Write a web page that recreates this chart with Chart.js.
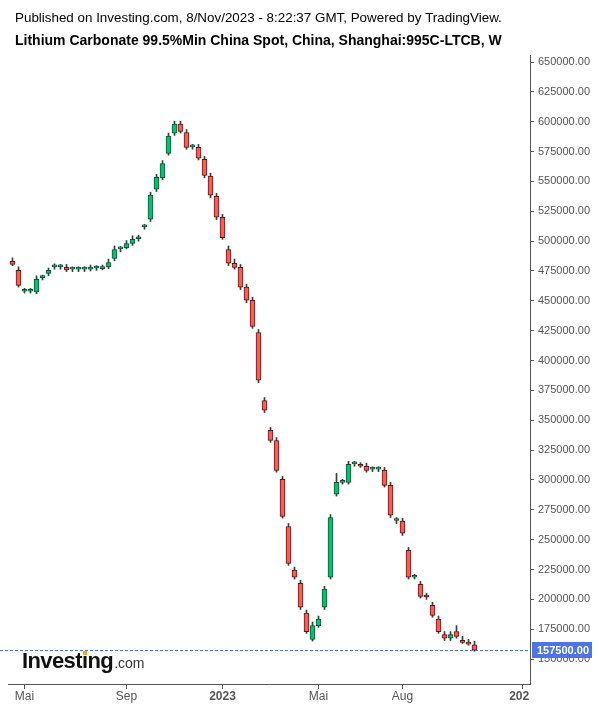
<!DOCTYPE html>
<html>
<head>
<meta charset="utf-8">
<script src="https://cdn.jsdelivr.net/npm/chart.js@4"></script>
<style>
  html, body { margin: 0; padding: 0; background: #fff; }
  #wrap { width: 600px; height: 708px; }
</style>
</head>
<body>
<div id="wrap"><canvas id="myChart" width="600" height="708"></canvas></div>
<script>
// Donnees hebdomadaires (OHLC), une bougie par semaine
const opens  = [483000, 475500, 458000, 458000, 457500, 469500, 473000, 478500, 478500, 478000,
                476500, 476500, 476500, 476500, 477500, 477000, 478500, 485500, 493500, 494500,
                498000, 502000, 512000, 518500, 543500, 553000, 573500, 590500, 598000, 591000,
                579000, 578500, 568500, 554500, 537500, 520000, 493000, 481500, 478000, 461500,
                450500, 423500, 366500, 341500, 333000, 300500, 261000, 224500, 213500, 188500,
                166500, 178000, 193500, 218500, 288000, 298000, 298000, 313500, 313000, 311500,
                309000, 309000, 308000, 295500, 266000, 265500, 241000, 218500, 212500, 203000,
                195000, 183500, 170500, 167500, 173000, 165500, 163500, 162000]
const highs  = [486000, 478500, 460500, 460500, 471000, 471500, 477500, 481000, 480500, 480500,
                478500, 478500, 478500, 480000, 479500, 480000, 485000, 496000, 495500, 500500,
                504500, 505000, 514000, 541000, 556000, 567500, 590500, 600500, 600500, 593500,
                581000, 581000, 571000, 557000, 540000, 522500, 496000, 485000, 480500, 464000,
                453000, 426000, 369000, 344000, 335500, 303000, 263500, 227000, 216000, 191000,
                181000, 186000, 211000, 271000, 305500, 300500, 315500, 315500, 314500, 314000,
                311000, 311000, 310500, 298000, 268500, 268000, 243500, 221000, 215000, 205000,
                197500, 186000, 173000, 173000, 178000, 169000, 166500, 165000]
const lows   = [479500, 461500, 456500, 456500, 456000, 467500, 471000, 476500, 476500, 474500,
                474500, 474500, 474500, 475000, 475500, 476000, 477000, 483500, 491000, 493500,
                496500, 500000, 510000, 516500, 541500, 551500, 572000, 588500, 590500, 577000,
                577000, 568000, 553000, 536500, 518000, 501500, 479500, 476500, 459500, 448500,
                427000, 381500, 356500, 331500, 306500, 268000, 228500, 217000, 191500, 171500,
                165000, 176500, 191500, 217000, 286500, 296500, 296500, 311500, 310500, 306500,
                307000, 307000, 294000, 268500, 263500, 253500, 217000, 217000, 201000, 200000,
                185000, 171500, 165500, 165500, 167500, 163000, 161500, 156500]
const closes = [480500, 463000, 458000, 458000, 468000, 469500, 475500, 478500, 478500, 476000,
                476500, 476500, 476500, 477000, 477500, 478000, 482000, 493000, 493500, 498000,
                501500, 503000, 512000, 538500, 553500, 565000, 588000, 598000, 592000, 578500,
                579000, 569500, 555000, 538500, 520000, 503000, 481500, 478000, 461500, 450500,
                428500, 383500, 358500, 333000, 308000, 269500, 230000, 218500, 193500, 173000,
                178000, 183500, 208500, 268500, 298000, 298000, 313000, 313500, 311500, 308000,
                309000, 309000, 295500, 270500, 266000, 255500, 218500, 218500, 202500, 202000,
                186500, 173000, 167500, 170500, 169000, 164000, 162500, 157500]
const lastPrice = 157500

// Axe des x : position des semaines et libelles
const xTickIdx = [2, 19, 35, 51, 65, 85]
const xTickLabels = ["Mai", "Sep", "2023", "Mai", "Aug", "2024"]
// Axe des y
const yTicks = [150000, 175000, 200000, 225000, 250000, 275000, 300000, 325000, 350000, 375000,
                400000, 425000, 450000, 475000, 500000, 525000, 550000, 575000, 600000, 625000, 650000]

const titleLine1 = "Published on Investing.com, 8/Nov/2023 - 8:22:37 GMT, Powered by TradingView."
const titleLine2 = "Lithium Carbonate 99.5%Min China Spot, China, Shanghai:995C-LTCB, W"

const FONT = "Arial, 'Liberation Sans', sans-serif"
const isUp = opens.map((o, i) => closes[i] >= o)
const isYear = lab => /^\d+$/.test(lab)

// Les meches (bas -> haut) et les corps (ouverture -> cloture)
const wicks = opens.map((o, i) => ({ x: i, y: [lows[i], highs[i]] }))
const bodies = opens.map((o, i) => ({ x: i, y: [o, closes[i]] }))

// Plugin pour les titres, le logo et la ligne du dernier prix
const decor = {
    id: "decor",
    beforeDraw(chart) {
        const ctx = chart.ctx
        ctx.save()
        ctx.fillStyle = "#fff"
        ctx.fillRect(0, 0, chart.width, chart.height)
        ctx.fillStyle = "#000"
        ctx.textBaseline = "alphabetic"
        ctx.font = "13.4px " + FONT
        ctx.fillText(titleLine1, 15, 22)
        ctx.font = "bold 14px " + FONT
        ctx.fillText(titleLine2, 15, 45)
        // Logo Investing.com
        ctx.font = "bold 22px " + FONT
        ctx.letterSpacing = "-0.6px"
        ctx.fillStyle = "#111"
        ctx.fillText("Investing", 22, 668)
        const w = ctx.measureText("Investing").width
        const wi = ctx.measureText("Invest").width
        const wii = ctx.measureText("i").width
        ctx.fillStyle = "#f5a623"
        ctx.fillRect(22 + wi + wii / 2 - 1.5, 651, 4, 4)
        ctx.letterSpacing = "0px"
        ctx.fillStyle = "#333"
        ctx.font = "14px " + FONT
        ctx.fillText(".com", 22 + w + 1, 668)
        ctx.restore()
    },
    afterDatasetsDraw(chart) {
        const ctx = chart.ctx
        const y = Math.round(chart.scales.y.getPixelForValue(lastPrice)) + 0.5
        ctx.save()
        ctx.strokeStyle = "#4a6fe0"
        ctx.lineWidth = 1
        ctx.setLineDash([3, 2])
        ctx.beginPath()
        ctx.moveTo(0, y)
        ctx.lineTo(chart.chartArea.right, y)
        ctx.stroke()
        ctx.restore()
    },
    afterDraw(chart) {
        const ctx = chart.ctx
        const area = chart.chartArea
        const y = Math.round(chart.scales.y.getPixelForValue(lastPrice))
        ctx.save()
        ctx.fillStyle = "#4c74e6"
        ctx.fillRect(area.right + 2, y - 8, 60, 16)
        ctx.fillStyle = "#fff"
        ctx.font = "bold 11px " + FONT
        ctx.textBaseline = "middle"
        ctx.fillText(lastPrice.toFixed(2), area.right + 7, y + 0.5)
        ctx.restore()
        // Le dernier libelle de l'axe x est coupe par l'axe des prix
        const last = xTickLabels.length - 1
        const lx = chart.scales.x.getPixelForValue(xTickIdx[last])
        ctx.save()
        ctx.beginPath()
        ctx.rect(0, area.bottom, area.right - 1, chart.height - area.bottom)
        ctx.clip()
        ctx.fillStyle = "#555"
        ctx.font = (isYear(xTickLabels[last]) ? "bold " : "") + "12px " + FONT
        ctx.textAlign = "center"
        ctx.textBaseline = "top"
        ctx.fillText(xTickLabels[last], lx, area.bottom + 7)
        ctx.restore()
    }
}

const graph = document.getElementById("myChart")
// eslint-disable-next-line no-undef
new Chart(graph, {
    type: "bar",
    data: {
        datasets: [{
            label: "corps",
            data: bodies,
            barThickness: 5,
            minBarLength: 2,
            borderWidth: 1,
            borderSkipped: false,
            backgroundColor: isUp.map(u => u ? "#00c46f" : "#ff5b55"),
            borderColor: isUp.map(u => u ? "#1d4a33" : "#5e1414"),
            grouped: false,
            order: 1
        }, {
            label: "meches",
            data: wicks,
            barThickness: 1,
            borderWidth: 0,
            backgroundColor: "#26473a",
            grouped: false,
            order: 2
        }]
    },
    options: {
        responsive: false,
        animation: false,
        devicePixelRatio: 1,
        layout: { padding: { top: 55, left: 8, right: 0, bottom: 0 } },
        plugins: {
            legend: { display: false },
            tooltip: { enabled: false }
        },
        scales: {
            x: {
                type: "linear",
                position: "bottom",
                offset: false,
                min: -0.75,
                max: 86.25,
                afterBuildTicks: axis => { axis.ticks = xTickIdx.map(v => ({ value: v })) },
                afterFit: axis => { axis.height = 24 },
                grid: { offset: false, drawOnChartArea: false, drawTicks: true, tickLength: 5, color: "#555" },
                border: { display: true, color: "#555", width: 1 },
                ticks: {
                    autoSkip: false,
                    maxRotation: 0,
                    padding: 0,
                    color: "#555",
                    font: ctx => {
                        const lab = xTickLabels[xTickIdx.indexOf(ctx.tick ? ctx.tick.value : -1)] || ""
                        return { family: FONT, size: 12, weight: isYear(lab) ? "bold" : "normal" }
                    },
                    // le dernier libelle est dessine a part (coupe)
                    callback: value => {
                        const k = xTickIdx.indexOf(value)
                        return k === xTickLabels.length - 1 ? "" : (xTickLabels[k] || "")
                    }
                }
            },
            y: {
                type: "linear",
                position: "right",
                min: 129100,
                max: 655900,
                afterBuildTicks: axis => { axis.ticks = yTicks.map(v => ({ value: v })) },
                afterFit: axis => { axis.width = 70 },
                grid: { drawOnChartArea: false, drawTicks: true, tickLength: 4, color: "#555" },
                border: { display: true, color: "#555", width: 1 },
                ticks: {
                    padding: 4,
                    color: "#555",
                    font: { family: FONT, size: 11 },
                    callback: value => Number(value).toFixed(2)
                }
            }
        }
    },
    plugins: [decor]
})
</script>
</body>
</html>
